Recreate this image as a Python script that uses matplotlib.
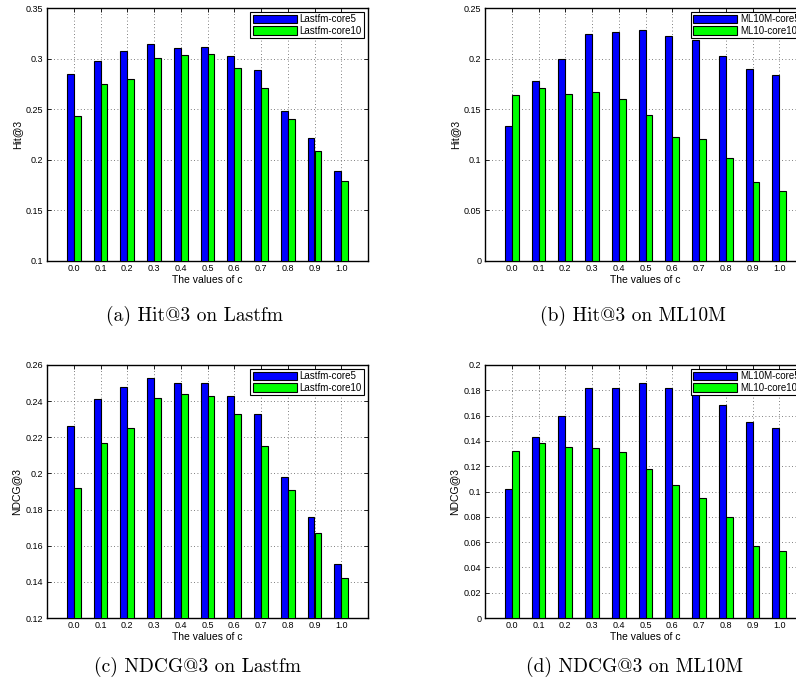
"""
Hit@3 and NDCG@3 for different values of c, Lastfm and ML10M, 2x2 bar panels.
"""

import numpy as np
import matplotlib.pyplot as plt

c_labels = ["0.0", "0.1", "0.2", "0.3", "0.4", "0.5", "0.6", "0.7", "0.8", "0.9", "1.0"]

# (a) Hit@3 on Lastfm
hit_lastfm_core5 = [0.285, 0.298, 0.308, 0.314, 0.310, 0.311, 0.303, 0.289, 0.248, 0.222, 0.189]
hit_lastfm_core10 = [0.243, 0.275, 0.280, 0.301, 0.304, 0.305, 0.291, 0.271, 0.240, 0.209, 0.179]

# (b) Hit@3 on ML10M
hit_ml_core5 = [0.133, 0.178, 0.200, 0.224, 0.226, 0.228, 0.222, 0.218, 0.203, 0.190, 0.184]
hit_ml_core10 = [0.164, 0.171, 0.165, 0.167, 0.160, 0.144, 0.123, 0.121, 0.102, 0.078, 0.069]

# (c) NDCG@3 on Lastfm
ndcg_lastfm_core5 = [0.226, 0.241, 0.248, 0.253, 0.250, 0.250, 0.243, 0.233, 0.198, 0.176, 0.150]
ndcg_lastfm_core10 = [0.192, 0.217, 0.225, 0.242, 0.244, 0.243, 0.233, 0.215, 0.191, 0.167, 0.142]

# (d) NDCG@3 on ML10M
ndcg_ml_core5 = [0.102, 0.143, 0.160, 0.182, 0.182, 0.186, 0.182, 0.179, 0.168, 0.155, 0.150]
ndcg_ml_core10 = [0.132, 0.138, 0.135, 0.134, 0.131, 0.118, 0.105, 0.095, 0.080, 0.057, 0.053]

W, H = 796, 686
fig = plt.figure(figsize=(W / 100, H / 100), dpi=100)
plt.rcParams["font.family"] = ["Liberation Sans", "DejaVu Sans"]


def panel(left, top, series5, series10, names, ylabel, ylim, yticks, ytick_labels):
    # axes box given in pixels from the top-left corner
    ax = fig.add_axes([left / W, 1 - (top + 253) / H, 321 / W, 253 / H])
    x = np.arange(1, len(c_labels) + 1)
    ax.bar(x - 0.13, series5, width=0.26, color="#0000ff", edgecolor="black",
           linewidth=0.8, label=names[0], zorder=3)
    ax.bar(x + 0.13, series10, width=0.26, color="#00ff00", edgecolor="black",
           linewidth=0.8, label=names[1], zorder=3)
    ax.set_xlim(0, 12)
    ax.set_ylim(*ylim)
    ax.set_xticks(x)
    ax.set_xticklabels(c_labels)
    ax.set_yticks(yticks)
    ax.set_yticklabels(ytick_labels)
    ax.tick_params(direction="in", length=3, width=0.6, labelsize=6.5, pad=2.5,
                   top=True, right=True)
    ax.grid(True, linestyle=(0, (1, 3)), color="#555555", linewidth=0.6, zorder=0)
    for s in ax.spines.values():
        s.set_linewidth(1.0)
    ax.set_xlabel("The values of c", fontsize=7.5, labelpad=1)
    ax.set_ylabel(ylabel, fontsize=7.5, labelpad=3)
    leg = ax.legend(loc="upper right", fontsize=7, fancybox=False, framealpha=1,
                    edgecolor="black", borderpad=0.25, labelspacing=0.15,
                    handlelength=4.5, handleheight=1.0, handletextpad=0.3,
                    borderaxespad=0.4)
    leg.get_frame().set_linewidth(0.8)
    return ax


panel(47, 8, hit_lastfm_core5, hit_lastfm_core10, ["Lastfm-core5", "Lastfm-core10"],
      "Hit@3", (0.1, 0.35), [0.1, 0.15, 0.2, 0.25, 0.3, 0.35],
      ["0.1", "0.15", "0.2", "0.25", "0.3", "0.35"])
panel(485, 8, hit_ml_core5, hit_ml_core10, ["ML10M-core5", "ML10-core10"],
      "Hit@3", (0, 0.25), [0, 0.05, 0.1, 0.15, 0.2, 0.25],
      ["0", "0.05", "0.1", "0.15", "0.2", "0.25"])
panel(47, 365, ndcg_lastfm_core5, ndcg_lastfm_core10, ["Lastfm-core5", "Lastfm-core10"],
      "NDCG@3", (0.12, 0.26), [0.12, 0.14, 0.16, 0.18, 0.2, 0.22, 0.24, 0.26],
      ["0.12", "0.14", "0.16", "0.18", "0.2", "0.22", "0.24", "0.26"])
panel(485, 365, ndcg_ml_core5, ndcg_ml_core10, ["ML10M-core5", "ML10-core10"],
      "NDCG@3", (0, 0.2), [0, 0.02, 0.04, 0.06, 0.08, 0.1, 0.12, 0.14, 0.16, 0.18, 0.2],
      ["0", "0.02", "0.04", "0.06", "0.08", "0.1", "0.12", "0.14", "0.16", "0.18", "0.2"])

captions = ["(a) Hit@3 on Lastfm", "(b) Hit@3 on ML10M",
            "(c) NDCG@3 on Lastfm", "(d) NDCG@3 on ML10M"]
cap_pos = [(195, 316), (633, 316), (198, 667), (634, 667)]
for text, (cx, cy) in zip(captions, cap_pos):
    fig.text(cx / W, 1 - cy / H, text, ha="center", va="center", fontsize=14,
             family=["cmr10", "DejaVu Serif"])

plt.savefig("out.png", dpi=100)
